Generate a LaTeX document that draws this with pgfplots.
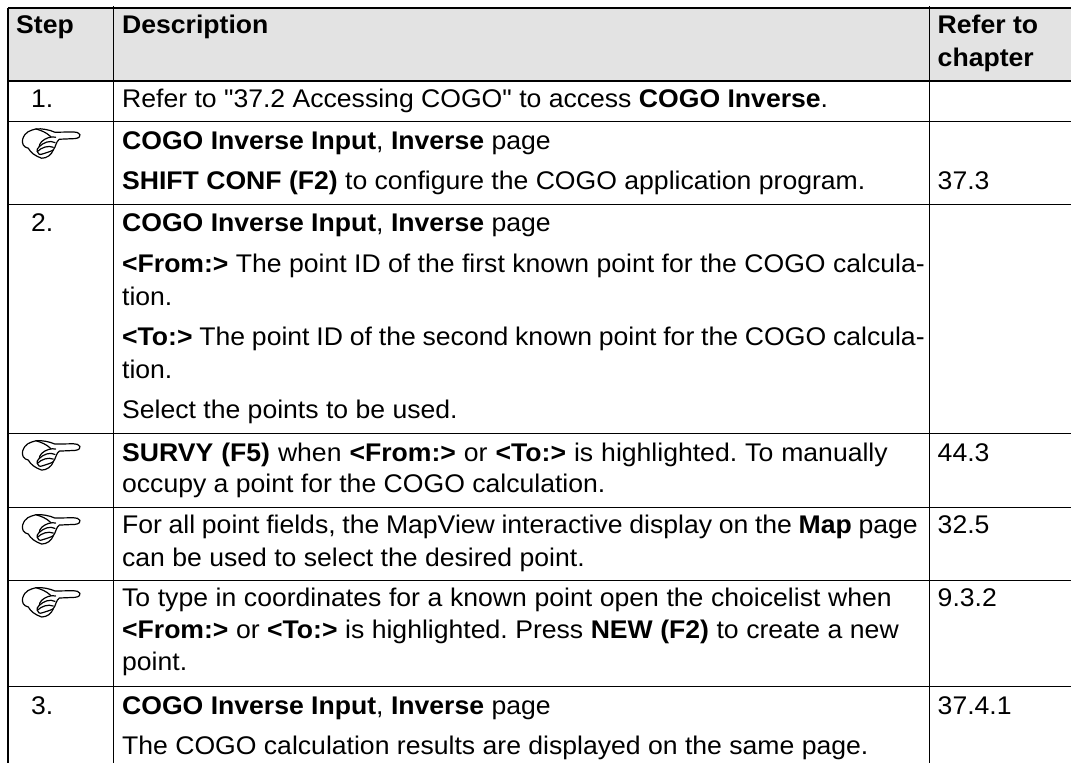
\documentclass[border=0pt]{standalone}
\usepackage{pgfplots}
\pgfplotsset{compat=1.18}
\usepackage{fontspec}
\setmainfont{Liberation Sans}[Ligatures=TeXOff]
\frenchspacing
\newcommand{\T}[3]{\node[anchor=base west,inner sep=0pt,font=\fontsize{26.6}{28}\selectfont] at (axis cs:#1,#2) {\scalebox{1}[0.96]{#3}};}
\newcommand{\Hand}[1]{%
\begin{scope}[shift={(axis cs:0,#1)},x=0.3333pt,y=-0.3333pt,line width=1.2pt,line join=round,line cap=round]
\draw (178,418) -- (225,416) .. controls (238,415) and (242,408) .. (240,404) .. controls (238,398) and (228,396) .. (220,396) -- (165,397) .. controls (150,390) and (125,385) .. (108,387) .. controls (90,392) and (75,395) .. (68,418) .. controls (65,430) and (70,442) .. (85,445) .. controls (92,458) and (105,468) .. (125,475) .. controls (140,475) and (155,465) .. (160,450) .. controls (168,440) and (168,425) .. (178,418);
\draw (108,387) .. controls (125,392) and (140,398) .. (152,410);
\draw (125,425) .. controls (135,415) and (155,408) .. (167,412);
\draw (118,440) .. controls (130,428) and (150,420) .. (165,428);
\draw (112,455) .. controls (125,442) and (145,436) .. (160,442);
\draw (125,425) .. controls (120,430) and (118,436) .. (118,440);
\draw (118,440) .. controls (112,445) and (110,450) .. (112,455);
\draw (112,455) .. controls (112,462) and (120,466) .. (128,462) .. controls (140,458) and (152,455) .. (160,450);
\end{scope}}
\begin{document}
\begin{tikzpicture}
\begin{axis}[x=1pt,y=1pt,scale only axis,width=1072pt,height=763pt,xmin=0,xmax=1072,ymin=0,ymax=763,y dir=reverse,axis lines=none,clip=false]
\addplot[draw=none,fill=black!11] coordinates {(8,8)(1072,8)(1072,81)(8,81)} -- cycle;
\addplot[black,line width=1.1pt] coordinates {(8,8)(1072,8)};
\addplot[black,line width=1.1pt] coordinates {(8,81)(1072,81)};
\addplot[black,line width=1.1pt] coordinates {(8,122)(1072,122)};
\addplot[black,line width=1.1pt] coordinates {(8,205)(1072,205)};
\addplot[black,line width=1.1pt] coordinates {(8,434)(1072,434)};
\addplot[black,line width=1.1pt] coordinates {(8,508)(1072,508)};
\addplot[black,line width=1.1pt] coordinates {(8,581)(1072,581)};
\addplot[black,line width=1.1pt] coordinates {(8,687)(1072,687)};
\addplot[black,line width=1.1pt] coordinates {(8,8)(8,763)};
\addplot[black,line width=1.1pt] coordinates {(114,6)(114,763)};
\addplot[black,line width=1.1pt] coordinates {(930,6)(930,763)};
\T{16}{34}{\textbf{Step}}
\T{122}{34}{\textbf{Description}}
\T{938}{34}{\textbf{Refer to}}
\T{938}{67}{\textbf{chapter}}
\T{31}{108}{1.}
\T{122}{108}{Refer to "37.2 Accessing COGO" to access \textbf{COGO Inverse}.}
\Hand{0}
\T{122}{150}{\textbf{COGO Inverse Input}, \textbf{Inverse} page}
\T{122}{190}{\textbf{SHIFT CONF (F2)} to configure the COGO application program.}
\T{938}{190}{37.3}
\T{31}{232}{2.}
\T{122}{232}{\textbf{COGO Inverse Input}, \textbf{Inverse} page}
\T{122}{273}{\makebox[803pt][s]{\textbf{<From:>} The point ID of the first known point for the COGO calcula-}}
\T{122}{306}{tion.}
\T{122}{346}{\makebox[803pt][s]{\textbf{<To:>} The point ID of the second known point for the COGO calcula-}}
\T{122}{379}{tion.}
\T{122}{419}{Select the points to be used.}
\Hand{312}
\T{122}{462}{\makebox[766pt][s]{\textbf{SURVY (F5)} when \textbf{<From:>} or \textbf{<To:>} is highlighted. To manually}}
\T{122}{493}{occupy a point for the COGO calculation.}
\T{938}{462}{44.3}
\Hand{386}
\T{122}{534}{\makebox[796pt][s]{For all point fields, the MapView interactive display on the \textbf{Map} page}}
\T{122}{567}{can be used to select the desired point.}
\T{938}{534}{32.5}
\Hand{459}
\T{122}{607}{\makebox[770pt][s]{To type in coordinates for a known point open the choicelist when}}
\T{122}{639}{\makebox[777pt][s]{\textbf{<From:>} or \textbf{<To:>} is highlighted. Press \textbf{NEW (F2)} to create a new}}
\T{122}{671}{point.}
\T{938}{607}{9.3.2}
\T{31}{715}{3.}
\T{122}{715}{\textbf{COGO Inverse Input}, \textbf{Inverse} page}
\T{938}{715}{37.4.1}
\T{122}{755}{The COGO calculation results are displayed on the same page.}
\end{axis}
\path (current axis.south west) rectangle (current axis.north east);
\end{tikzpicture}
\end{document}
